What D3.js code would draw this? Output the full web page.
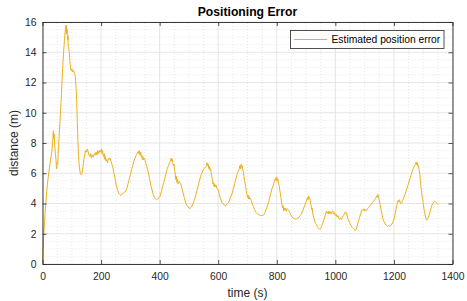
<!DOCTYPE html>
<html><head><meta charset="utf-8">
<script src="https://cdn.jsdelivr.net/npm/d3@7"></script>
<style>body{margin:0;background:#fff}svg{display:block}text{font-family:"Liberation Sans",Arial,Helvetica,sans-serif}</style>
</head><body>
<script>
const title = "Positioning Error";
const xLabel = "time (s)";
const yLabel = "distance (m)";
const seriesName = "Estimated position error";
const xTicks = [0,200,400,600,800,1000,1200,1400];
const yTicks = [0,2,4,6,8,10,12,14,16];
const time = [0,2,4,6,9,12,15,18,22,26,30,33,35,37,38,40,42,44,46,48,50,52,54,57,60,63,66,69,72,75,77,79,80,81,82,83,84,86,87,88,90,92,94,96,98,100,103,106,109,112,115,117,119,121,123,126,129,132,135,138,141,144,147,150,153,156,159,162,165,168,171,174,177,180,183,186,189,192,195,198,201,203,205,207,209,211,213,215,217,219,222,225,228,231,234,237,240,244,248,252,256,260,264,268,272,276,280,284,288,292,296,300,304,308,312,316,320,324,327,329,331,333,335,337,339,341,343,345,348,351,354,358,362,366,370,374,378,382,386,390,394,398,402,406,410,414,418,422,426,430,434,437,439,441,443,445,447,449,451,453,455,457,459,461,463,466,469,472,476,480,484,488,492,496,500,504,508,512,516,520,524,528,532,536,540,544,548,552,556,560,562,564,566,568,570,572,574,576,578,580,582,584,586,588,590,593,596,600,604,608,612,616,620,624,628,632,636,640,644,648,652,656,660,664,668,672,674,676,678,680,682,684,686,688,690,692,694,696,698,700,702,704,706,708,710,713,716,720,724,728,732,736,740,745,750,755,760,764,768,772,776,780,784,788,791,794,796,798,800,802,804,806,808,810,812,814,816,818,820,822,824,826,828,830,832,835,838,841,844,848,852,856,860,864,868,872,876,880,884,888,892,896,900,903,905,907,909,911,913,915,917,919,921,923,926,929,932,935,938,941,944,947,950,953,956,959,962,965,968,970,972,974,976,978,980,982,985,988,991,994,997,1000,1003,1006,1009,1012,1015,1018,1021,1024,1027,1030,1033,1035,1037,1039,1041,1044,1047,1050,1053,1056,1059,1062,1065,1068,1071,1074,1077,1080,1083,1086,1089,1092,1095,1098,1101,1104,1107,1110,1114,1118,1122,1126,1130,1134,1138,1141,1143,1145,1147,1149,1151,1153,1156,1159,1162,1166,1170,1174,1178,1182,1186,1190,1194,1198,1202,1205,1208,1211,1214,1216,1219,1222,1226,1230,1234,1238,1242,1246,1250,1254,1258,1262,1266,1270,1274,1276,1278,1280,1282,1284,1286,1288,1290,1292,1294,1296,1298,1300,1303,1306,1309,1312,1315,1318,1321,1324,1327,1330,1333,1336,1339,1342,1345,1348,1352];
const dist = [0.2,1.0,1.8,2.5,3.4,4.2,4.9,5.5,6.1,6.7,7.2,7.6,8.2,8.8,8.3,8.6,7.8,7.3,6.9,6.3,6.7,6.6,7.5,8.5,9.5,10.6,11.8,13.0,14.0,14.8,15.3,15.6,15.8,15.2,15.7,15.3,15.5,14.8,15.1,14.4,14.2,13.9,13.3,12.9,12.8,12.9,12.7,12.8,12.6,12.4,11.6,10.6,9.3,8.1,7.1,6.4,6.0,5.9,6.0,6.4,6.9,7.2,7.5,7.4,7.6,7.4,7.2,7.1,7.3,7.0,7.2,7.1,7.3,7.2,7.4,7.2,7.5,7.3,7.5,7.4,7.6,7.3,7.5,7.2,7.1,7.3,6.9,7.1,6.8,6.9,6.7,7.0,6.9,7.0,6.8,6.6,6.4,6.0,5.6,5.2,4.9,4.7,4.6,4.55,4.6,4.7,4.75,4.8,5.0,5.3,5.6,5.9,6.2,6.5,6.8,7.0,7.2,7.3,7.45,7.3,7.5,7.2,7.4,7.1,7.2,6.9,7.1,6.9,7.0,6.8,6.6,6.3,6.0,5.6,5.2,4.9,4.6,4.4,4.3,4.25,4.3,4.4,4.5,4.8,5.1,5.4,5.7,6.0,6.3,6.5,6.7,6.8,7.0,6.8,6.95,6.7,6.5,6.6,6.2,6.0,5.6,5.8,5.4,5.6,5.3,5.45,5.4,5.3,5.0,4.7,4.4,4.1,3.9,3.8,3.7,3.68,3.75,3.9,4.1,4.3,4.6,4.9,5.2,5.5,5.8,6.0,6.2,6.3,6.4,6.5,6.7,6.5,6.6,6.3,6.45,6.2,6.3,6.0,5.8,5.6,5.3,5.4,5.1,5.3,5.1,5.2,5.0,4.9,4.6,4.3,4.1,4.0,3.9,3.85,3.9,4.0,4.1,4.3,4.5,4.7,5.0,5.3,5.6,5.9,6.1,6.3,6.5,6.3,6.6,6.4,6.5,6.2,6.1,5.8,5.5,5.3,5.1,4.8,4.6,4.4,4.55,4.3,4.45,4.3,4.35,4.2,4.0,3.8,3.6,3.45,3.35,3.3,3.25,3.2,3.2,3.25,3.4,3.6,3.85,4.1,4.4,4.7,5.0,5.2,5.4,5.6,5.7,5.5,5.75,5.5,5.6,5.3,5.2,4.9,4.7,4.4,4.1,3.9,3.7,3.85,3.5,3.7,3.6,3.7,3.5,3.65,3.6,3.55,3.4,3.25,3.1,3.05,3.0,2.98,3.0,3.05,3.1,3.2,3.3,3.5,3.7,3.9,4.1,4.3,4.4,4.25,4.5,4.3,4.35,4.0,3.9,3.6,3.7,3.3,3.1,2.9,2.7,2.6,2.5,2.4,2.35,2.3,2.35,2.5,2.65,2.85,3.0,3.2,3.4,3.5,3.35,3.45,3.3,3.5,3.35,3.45,3.3,3.45,3.5,3.3,3.4,3.2,3.3,3.1,3.2,3.0,2.95,3.05,2.95,3.1,3.2,3.3,3.4,3.45,3.3,3.35,3.1,2.95,2.8,2.7,2.55,2.45,2.4,2.35,2.3,2.2,2.3,2.5,2.7,2.9,3.1,3.3,3.5,3.6,3.55,3.65,3.5,3.6,3.55,3.65,3.75,3.85,3.95,4.05,4.15,4.25,4.35,4.5,4.4,4.6,4.5,4.3,4.1,3.9,3.6,3.3,3.0,2.8,2.65,2.55,2.5,2.55,2.5,2.6,2.65,2.85,3.1,3.4,3.7,4.0,4.2,4.1,4.25,4.0,4.05,4.2,4.4,4.6,4.85,5.1,5.35,5.6,5.85,6.1,6.3,6.5,6.6,6.75,6.55,6.7,6.45,6.5,6.2,6.0,5.6,5.2,4.8,4.5,4.3,4.0,3.6,3.3,3.0,2.9,2.95,3.1,3.3,3.5,3.7,3.9,4.0,4.1,4.15,4.1,4.05,4.0,3.9];

const W = 467, H = 301;
const m = {left: 42.5, right: 14.5, top: 22, bottom: 37};
const svg = d3.select("body").append("svg").attr("width", W).attr("height", H);
const x = d3.scaleLinear().domain([0,1400]).range([m.left, W - m.right]);
const y = d3.scaleLinear().domain([0,16]).range([H - m.bottom, m.top]);
const axCol = "#262626";

// minor grid
const g = svg.append("g");
g.selectAll(".mx").data(d3.range(0,1401,50).filter(v=>v%200!==0)).join("line")
  .attr("x1",d=>x(d)).attr("x2",d=>x(d)).attr("y1",y(0)).attr("y2",y(16))
  .attr("stroke","#d6d6d6").attr("stroke-width",0.6).attr("stroke-dasharray","1,2");
g.selectAll(".my").data(d3.range(0,16.01,0.5).filter(v=>v%2!==0)).join("line")
  .attr("y1",d=>y(d)).attr("y2",d=>y(d)).attr("x1",x(0)).attr("x2",x(1400))
  .attr("stroke","#d6d6d6").attr("stroke-width",0.6).attr("stroke-dasharray","1,2");
// major grid
g.selectAll(".gx").data(xTicks).join("line")
  .attr("x1",d=>x(d)).attr("x2",d=>x(d)).attr("y1",y(0)).attr("y2",y(16))
  .attr("stroke","#dfdfdf").attr("stroke-width",0.8);
g.selectAll(".gy").data(yTicks).join("line")
  .attr("y1",d=>y(d)).attr("y2",d=>y(d)).attr("x1",x(0)).attr("x2",x(1400))
  .attr("stroke","#dfdfdf").attr("stroke-width",0.8);

// data line
const pts = time.map((t,i)=>[t,dist[i]]);
svg.append("path").datum(pts)
  .attr("d", d3.line().x(d=>x(d[0])).y(d=>y(d[1])))
  .attr("fill","none").attr("stroke","#EDB120").attr("stroke-width",1).attr("stroke-linejoin","round");

// axes
const fmt = d3.format("d");
const xb = svg.append("g").attr("transform",`translate(0,${y(0)})`)
  .call(d3.axisBottom(x).tickValues(xTicks).tickFormat(fmt).tickSizeInner(-4).tickSizeOuter(0).tickPadding(9));
const xt = svg.append("g").attr("transform",`translate(0,${y(16)})`)
  .call(d3.axisTop(x).tickValues(xTicks).tickFormat("").tickSizeInner(-4).tickSizeOuter(0));
const yl = svg.append("g").attr("transform",`translate(${x(0)},0)`)
  .call(d3.axisLeft(y).tickValues(yTicks).tickFormat(fmt).tickSizeInner(-4).tickSizeOuter(0).tickPadding(6));
const yr = svg.append("g").attr("transform",`translate(${x(1400)},0)`)
  .call(d3.axisRight(y).tickValues(yTicks).tickFormat("").tickSizeInner(-4).tickSizeOuter(0));
[xb,xt,yl,yr].forEach(a=>{
  a.select(".domain").attr("stroke",axCol).attr("stroke-width",0.9);
  a.selectAll(".tick line").attr("stroke",axCol).attr("stroke-width",0.8);
  a.selectAll(".tick text").attr("fill",axCol).style("font-size","10.3px");
});
xb.selectAll(".tick text").attr("dy","0.71em");

// title and labels
svg.append("text").attr("x",(x(0)+x(1400))/2).attr("y",16).attr("text-anchor","middle")
  .style("font-size","12.2px").style("font-weight","bold").attr("fill","#000").text(title);
svg.append("text").attr("x",(x(0)+x(1400))/2).attr("y",296.5).attr("text-anchor","middle")
  .style("font-size","12px").attr("fill",axCol).text(xLabel);
svg.append("text").attr("transform",`translate(18,${(y(0)+y(16))/2}) rotate(-90)`).attr("text-anchor","middle")
  .style("font-size","12px").attr("fill",axCol).text(yLabel);

// legend
const lg = svg.append("g");
lg.append("rect").attr("x",290.5).attr("y",30.5).attr("width",153.5).attr("height",18)
  .attr("fill","#fff").attr("stroke",axCol).attr("stroke-width",0.8);
lg.append("line").attr("x1",294).attr("x2",327).attr("y1",39.5).attr("y2",39.5)
  .attr("stroke","#EDB120").attr("stroke-width",1);
lg.append("text").attr("x",331.5).attr("y",43).style("font-size","10.3px").attr("fill","#000").text(seriesName);
</script>
</body></html>
